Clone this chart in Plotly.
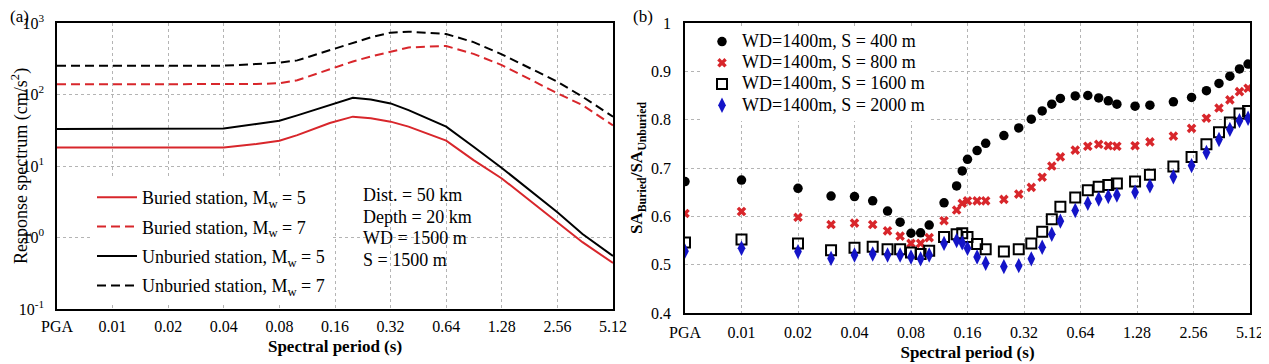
import plotly.graph_objects as go

# ---------------- data ----------------
PGA_POS = 0.005  # period coordinate where "PGA" is placed on the log axis

tick_periods = ["PGA", 0.01, 0.02, 0.04, 0.08, 0.16, 0.32, 0.64, 1.28, 2.56, 5.12]
tick_labels = ["PGA", "0.01", "0.02", "0.04", "0.08", "0.16", "0.32", "0.64", "1.28", "2.56", "5.12"]

# (a) response spectra
left_periods = ["PGA", 0.01, 0.02, 0.04, 0.06, 0.08, 0.1, 0.15, 0.2, 0.25, 0.32, 0.4,
                0.64, 0.9, 1.28, 2.56, 3.5, 5.12]
buried_m5 = [18.2, 18.2, 18.0, 18.2, 20.3, 22.6, 27, 40, 49, 46.5, 41.7, 35.5,
             22.6, 12.1, 6.7, 1.62, 0.86, 0.44]
buried_m7 = [139, 139, 139, 139, 140, 144, 158, 225, 290, 340, 400, 455,
             477, 370, 258, 104, 71, 37]
unburied_m5 = [33, 33, 33, 33.5, 38.6, 43, 51, 71, 90, 85, 75, 60.5,
               35.5, 18.6, 9.4, 2.25, 1.12, 0.55]
unburied_m7 = [253, 253, 253, 253, 267, 279, 300, 415, 530, 630, 733, 757,
               702, 540, 365, 151, 93, 49]

# (b) ratio SA_buried / SA_unburied
right_periods = ["PGA", 0.01, 0.02, 0.03, 0.04, 0.05, 0.06, 0.07, 0.08, 0.09, 0.1,
                 0.12, 0.14, 0.15, 0.16, 0.18, 0.2, 0.25, 0.3, 0.35, 0.4, 0.45, 0.5,
                 0.6, 0.7, 0.8, 0.9, 1.0, 1.25, 1.5, 2.0, 2.5, 3.0, 3.5, 4.0, 4.5, 5.0]
ratio_s400 = [0.672, 0.675, 0.658, 0.642, 0.641, 0.632, 0.611, 0.588, 0.565, 0.566, 0.582,
              0.628, 0.663, 0.694, 0.718, 0.736, 0.751, 0.767, 0.783, 0.801, 0.818, 0.832, 0.844,
              0.849, 0.850, 0.845, 0.839, 0.832, 0.828, 0.830, 0.837, 0.846, 0.860, 0.875, 0.890,
              0.905, 0.915]
ratio_s800 = [0.606, 0.610, 0.598, 0.583, 0.586, 0.583, 0.570, 0.559, 0.544, 0.544, 0.556,
              0.591, 0.613, 0.627, 0.632, 0.632, 0.632, 0.635, 0.646, 0.660, 0.681, 0.704, 0.723,
              0.737, 0.745, 0.749, 0.746, 0.745, 0.746, 0.754, 0.766, 0.782, 0.803, 0.824, 0.841,
              0.858, 0.865]
ratio_s1600 = [0.546, 0.552, 0.544, 0.530, 0.535, 0.537, 0.532, 0.532, 0.525, 0.522, 0.529,
               0.557, 0.563, 0.565, 0.557, 0.543, 0.532, 0.527, 0.532, 0.544, 0.568, 0.594, 0.620,
               0.639, 0.654, 0.661, 0.665, 0.668, 0.672, 0.686, 0.703, 0.723, 0.749, 0.774, 0.794,
               0.813, 0.818]
ratio_s2000 = [0.528, 0.534, 0.527, 0.513, 0.520, 0.522, 0.520, 0.520, 0.516, 0.512, 0.520,
               0.544, 0.550, 0.545, 0.534, 0.516, 0.503, 0.496, 0.498, 0.512, 0.536, 0.563, 0.590,
               0.612, 0.627, 0.636, 0.641, 0.644, 0.650, 0.663, 0.682, 0.705, 0.732, 0.759, 0.780,
               0.798, 0.803]

left_yticks = [0.1, 1, 10, 100, 1000]
left_yticklabels = ["10<sup>-1</sup>", "10<sup>0</sup>", "10<sup>1</sup>", "10<sup>2</sup>", "10<sup>3</sup>"]
right_yticks = [0.4, 0.5, 0.6, 0.7, 0.8, 0.9, 1.0]
right_yticklabels = ["0.4", "0.5", "0.6", "0.7", "0.8", "0.9", "1"]

info_lines = ["Dist. = 50 km", "Depth = 20 km", "WD = 1500 m", "S = 1500 m"]


def to_x(periods):
    return [PGA_POS if p == "PGA" else p for p in periods]


# ---------------- figure ----------------
# the page body has an 8px margin, so the figure is drawn 8px in from the corner
OFF = 8
W, H = 1269 - OFF, 364 - OFF


def px(x):
    return (x - OFF) / W


def py(y):
    return 1 - (y - OFF) / H


RED = "#d8262b"
BLUE = "#1414c8"
FONT = "Liberation Serif"
DASH = "9px,5px"


def big(s):
    return f'<span style="font-size:18px">{s}</span>'


fig = go.Figure()

lx = to_x(left_periods)
left_series = [
    (buried_m5, "Buried station, M<sub>w</sub> = 5", RED, "solid"),
    (buried_m7, "Buried station, M<sub>w</sub> = 7", RED, DASH),
    (unburied_m5, "Unburied station, M<sub>w</sub> = 5", "black", "solid"),
    (unburied_m7, "Unburied station, M<sub>w</sub> = 7", "black", DASH),
]
for i, (vals, name, col, dash) in enumerate(left_series):
    fig.add_trace(go.Scatter(x=lx, y=vals, mode="lines", name=name,
                             line=dict(color=col, width=2, dash=dash),
                             xaxis="x", yaxis="y", legend="legend",
                             legendgroup=f"a{i}"))

rx = to_x(right_periods)
fig.add_trace(go.Scatter(x=rx, y=ratio_s400, mode="markers", name=big("WD=1400m, S = 400 m"),
                         marker=dict(symbol="circle", size=9.5, color="black"),
                         xaxis="x2", yaxis="y2", legend="legend2"))
fig.add_trace(go.Scatter(x=rx, y=ratio_s800, mode="markers", name=big("WD=1400m, S = 800 m"),
                         marker=dict(symbol="x", size=8.5, color=RED, line=dict(width=0)),
                         xaxis="x2", yaxis="y2", legend="legend2"))
fig.add_trace(go.Scatter(x=rx, y=ratio_s1600, mode="markers", name=big("WD=1400m, S = 1600 m"),
                         marker=dict(symbol="square-open", size=10, color="black", line=dict(width=2)),
                         xaxis="x2", yaxis="y2", legend="legend2"))
fig.add_trace(go.Scatter(x=rx, y=ratio_s2000, mode="markers", name=big("WD=1400m, S = 2000 m"),
                         marker=dict(symbol="diamond-tall", size=11, color=BLUE),
                         xaxis="x2", yaxis="y2", legend="legend2"))

tickx = to_x(tick_periods)
common_x = dict(type="log", tickvals=tickx, ticktext=tick_labels,
                showgrid=True, gridcolor="#b4b4b4", griddash="dot", gridwidth=1,
                showline=True, linecolor="black", linewidth=1.5, mirror=True,
                ticks="", zeroline=False, automargin=False,
                tickfont=dict(family=FONT, size=16, color="black"),
                title=dict(text="<b>Spectral period (s)</b>", standoff=6,
                           font=dict(family=FONT, size=17, color="black")))

annotations = [
    dict(text="(a)", x=px(8), y=py(16), xref="paper", yref="paper",
         xanchor="left", yanchor="middle", showarrow=False,
         font=dict(family=FONT, size=17, color="black")),
    dict(text="(b)", x=px(631), y=py(16), xref="paper", yref="paper",
         xanchor="left", yanchor="middle", showarrow=False,
         font=dict(family=FONT, size=17, color="black")),
]
for k, line in enumerate(info_lines):
    annotations.append(dict(text=line, x=px(361), y=py(195 + 21.7 * k), xref="paper", yref="paper",
                            xanchor="left", yanchor="middle", showarrow=False,
                            font=dict(family=FONT, size=18, color="black")))

fig.update_layout(
    width=W, height=H,
    margin=dict(l=0, r=0, t=0, b=0),
    paper_bgcolor="white", plot_bgcolor="white",
    font=dict(family=FONT, color="black"),
    xaxis=dict(common_x, domain=[px(57), px(613)], anchor="y",
               range=[-2.30103, 0.70927], ticklabelstandoff=2),
    yaxis=dict(type="log", domain=[py(309), py(23)], anchor="x", range=[-1, 3],
               tickvals=left_yticks, ticktext=left_yticklabels,
               showgrid=True, gridcolor="#b4b4b4", griddash="dot", gridwidth=1,
               showline=True, linecolor="black", linewidth=1.5, mirror=True,
               ticks="", ticklabelstandoff=8, zeroline=False, automargin=False,
               tickfont=dict(family=FONT, size=16, color="black"),
               title=dict(text="Response spectrum (cm/s<sup>2</sup>)", standoff=0,
                          font=dict(family=FONT, size=18, color="black"))),
    xaxis2=dict(common_x, domain=[px(685), px(1250)], anchor="y2",
                range=[-2.30103, 0.70927], ticklabelstandoff=4),
    yaxis2=dict(domain=[py(313), py(23)], anchor="x2", range=[0.4, 1.0],
                tickvals=right_yticks, ticktext=right_yticklabels,
                showgrid=True, gridcolor="#b4b4b4", griddash="dot", gridwidth=1,
                showline=True, linecolor="black", linewidth=1.5, mirror=True,
                ticks="", ticklabelstandoff=9, zeroline=False, automargin=False,
                tickfont=dict(family=FONT, size=16, color="black"),
                title=dict(text="<b>SA<sub>Buried</sub>/SA<sub>Unburied</sub></b>", standoff=4,
                           font=dict(family=FONT, size=17, color="black"))),
    legend=dict(x=px(92), y=py(179), xanchor="left", yanchor="top",
                bgcolor="white", borderwidth=0, itemwidth=40,
                font=dict(family=FONT, size=18, color="black"),
                traceorder="grouped", tracegroupgap=3),
    legend2=dict(x=px(702), y=py(26), xanchor="left", yanchor="top",
                 bgcolor="white", borderwidth=0,
                 font=dict(family=FONT, size=14, color="black"),
                 tracegroupgap=0),
    showlegend=True,
    annotations=annotations,
)

fig.write_html("out.html")
